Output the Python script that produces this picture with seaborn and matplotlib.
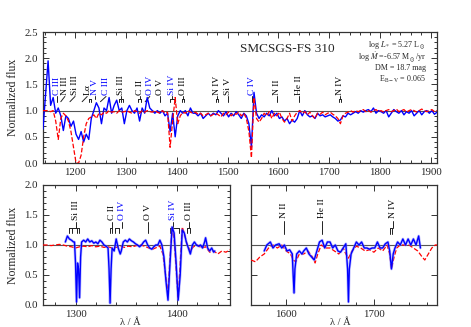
import numpy as np
import matplotlib
matplotlib.use('Agg')
import matplotlib.pyplot as plt
import seaborn as sns
from matplotlib.ticker import MultipleLocator

# ---- top panel: full range, 5 A grid ----
wl_top = np.arange(1137, 1915, 5)
blue_top = [0.65, 1.3, 1.95, 1.1, 1.25, 0.95, 1.05, 0.9, 0.62, 0.9,
            0.85, 0.7, 0.8, 0.55, 0.45, 0.6, 0.4, 0.55, 0.45, 0.85,
            1.0, 1.15, 1.05, 0.75, 1.05, 1.0, 1.25, 0.95, 1.1, 1.2,
            1.0, 1.05, 0.75, 1.0, 1.1, 1.0, 0.95, 1.05, 0.8, 1.05,
            0.95, 1.25, 1.05, 1.0, 0.95, 1.0, 0.95, 1.0, 0.9, 0.95,
            0.6, 0.95, 0.5, 0.9, 1.0, 0.95, 1.0, 0.9, 1.05, 0.95,
            0.95, 0.9, 0.95, 0.85, 0.9, 0.95, 0.9, 0.95, 0.92, 1.0,
            0.95, 0.9, 0.98, 0.88, 0.95, 0.9, 0.98, 0.92, 0.85, 0.95,
            0.9, 0.75, 0.3, 1.35, 0.95, 0.85, 0.92, 0.88, 0.95, 0.9,
            1.0, 0.9, 0.95, 0.85, 0.88, 0.8, 0.85, 0.75, 0.82, 0.78,
            0.85, 1.0, 0.9, 1.0, 0.92, 0.88, 0.9, 0.85, 0.95, 0.9,
            0.92, 0.88, 0.9, 0.92, 0.88, 0.85, 0.8, 0.82, 0.9, 0.88,
            0.95, 0.92, 0.95, 0.98, 0.95, 1.0, 0.97, 1.0, 1.02, 0.98,
            1.05, 0.95, 1.0, 0.98, 0.95, 1.0, 0.88, 0.95, 1.02, 0.98,
            0.95, 1.0, 0.92, 0.98, 0.95, 1.0, 0.9, 0.95, 1.0, 0.92,
            0.98, 1.0, 0.95, 1.0, 0.93, 0.97]
red_top = [1.0, 1.0, 1.0, 0.98, 1.0, 0.8, 0.45, 0.85, 0.95, 0.9,
           0.8, 0.6, 0.3, 0.0, 0.0, 0.15, 0.5, 0.75, 0.85, 0.88,
           0.92, 0.85, 0.95, 0.92, 0.97, 0.95, 1.0, 0.97, 0.98, 0.95,
           1.0, 0.97, 0.98, 1.0, 0.97, 0.95, 1.0, 0.98, 0.95, 1.0,
           0.97, 1.0, 0.98, 0.97, 1.0, 0.97, 0.95, 1.0, 0.95, 0.97,
           0.3, 0.8, 1.25, 0.75, 0.9, 0.97, 0.95, 1.0, 0.97, 0.95,
           0.97, 0.93, 0.95, 0.9, 0.92, 0.95, 0.9, 0.93, 0.95, 0.92,
           0.88, 0.95, 0.92, 0.97, 0.9, 0.95, 0.93, 0.97, 0.9, 0.95,
           0.85, 0.6, 0.1, 1.25, 0.85, 0.78, 0.85, 0.95, 0.9, 0.98,
           0.85, 0.95, 0.9, 0.97, 0.85, 0.78, 0.85, 0.95, 0.8, 0.9,
           0.97, 1.0, 0.95, 0.98, 0.92, 0.97, 0.9, 0.85, 0.95, 0.93,
           0.97, 0.92, 0.95, 0.97, 0.93, 0.9, 0.85, 0.75, 0.9, 0.95,
           0.97, 1.0, 0.97, 1.0, 0.98, 1.0, 1.02, 0.98, 1.0, 0.97,
           1.0, 1.02, 0.98, 1.0, 0.97, 1.0, 1.02, 0.98, 1.0, 1.03,
           0.98, 1.0, 1.02, 0.97, 1.0, 1.02, 1.0, 0.97, 1.0, 1.03,
           1.0, 0.98, 1.0, 1.02, 0.98, 1.0]

# ---- bottom left: Si IV region ----
bl_red_wl = [1268, 1272, 1276, 1280, 1284, 1288, 1292, 1296, 1300, 1304,
             1308, 1312, 1316, 1320, 1324, 1328, 1332, 1336, 1340, 1344,
             1348, 1352, 1356, 1360, 1364, 1368, 1372, 1376, 1380, 1383,
             1386, 1389, 1391, 1393, 1395, 1397, 1399, 1401, 1403, 1405,
             1407, 1410, 1413, 1416, 1420, 1424, 1428, 1432, 1436, 1440,
             1444, 1448, 1452]
bl_red = [1.0, 1.0, 0.99, 1.0, 1.01, 1.0, 0.98, 0.97, 0.95, 0.97,
          0.98, 0.97, 0.99, 0.97, 0.98, 0.96, 0.97, 0.95, 0.96, 0.98,
          0.96, 0.98, 0.97, 0.99, 1.0, 0.98, 0.95, 0.93, 0.96, 0.98,
          0.85, 0.45, 0.2, 0.8, 1.28, 1.1, 0.6, 0.1, 0.7, 1.3,
          1.2, 1.0, 0.9, 0.97, 1.0, 0.95, 0.97, 0.88, 0.9, 0.85,
          0.9, 0.88, 0.92]
bl_blue_wl = [1290, 1292, 1294, 1296, 1298, 1299, 1300, 1301, 1302, 1303,
              1304, 1305, 1306, 1308, 1310, 1312, 1314, 1316, 1318, 1320,
              1322, 1324, 1326, 1328, 1330, 1332, 1333, 1334, 1335, 1336,
              1338, 1340, 1342, 1344, 1345, 1347, 1349, 1351, 1353, 1355,
              1357, 1359, 1361, 1363, 1365, 1367, 1369, 1371, 1373, 1375,
              1377, 1379, 1381, 1383, 1385, 1387, 1389, 1391, 1393, 1395,
              1397, 1399, 1401, 1403, 1405, 1407, 1409, 1411, 1413, 1415,
              1417, 1419, 1421, 1423, 1425, 1427, 1428, 1430, 1432, 1434,
              1436, 1437]
bl_blue = [1.05, 1.15, 1.1, 1.08, 1.05, 1.05, 0.7, 0.05, 0.7, 0.6,
           0.12, 0.8, 1.05, 1.08, 1.05, 1.1, 1.05, 1.07, 1.03, 1.05,
           1.02, 1.08, 1.05, 1.0, 0.98, 0.95, 0.6, 0.03, 0.6, 0.95,
           0.9, 1.1, 0.95, 0.85, 0.9, 1.05, 1.08, 1.05, 1.1, 1.07,
           1.05, 1.02, 1.0, 0.97, 1.0, 1.05, 1.08, 1.0, 0.95, 0.93,
           0.97, 1.0, 1.0, 1.08, 1.0, 0.8, 0.4, 0.08, 0.7, 1.3,
           1.2, 0.7, 0.08, 0.5, 1.25, 1.2, 1.05, 0.95, 0.85, 1.0,
           1.05, 1.0, 0.98, 1.0, 0.95, 1.05, 1.12, 0.95, 0.9, 0.95,
           0.88, 0.9]

# ---- bottom right: N IV region ----
br_red_wl = [1560, 1565, 1570, 1575, 1580, 1585, 1590, 1595, 1600, 1605,
             1608, 1611, 1615, 1620, 1625, 1630, 1633, 1636, 1640, 1645,
             1650, 1655, 1660, 1665, 1668, 1671, 1675, 1680, 1685, 1690,
             1695, 1700, 1705, 1710, 1715, 1718, 1720, 1723, 1726, 1730,
             1735, 1740, 1745, 1750, 1755, 1758, 1762, 1766, 1770, 1772]
br_red = [0.75, 0.72, 0.8, 0.85, 0.95, 1.0, 0.95, 1.0, 0.9, 0.85,
          0.75, 0.72, 0.85, 0.85, 0.9, 0.8, 0.7, 0.85, 1.0, 0.95,
          0.95, 0.9, 0.85, 0.95, 0.85, 0.78, 0.9, 0.98, 0.95, 0.9,
          0.92, 0.88, 0.95, 0.9, 1.0, 0.85, 0.6, 0.8, 0.95, 1.0,
          1.0, 1.0, 0.95, 0.9, 0.8, 0.75, 0.85, 0.95, 1.0, 1.0]
br_blue_wl = [1575, 1578, 1582, 1585, 1588, 1592, 1595, 1598, 1601, 1604,
              1607, 1608, 1609, 1610, 1612, 1615, 1618, 1620, 1623, 1626,
              1629, 1632, 1635, 1638, 1641, 1644, 1647, 1650, 1653, 1656,
              1659, 1662, 1665, 1668, 1670, 1671, 1672, 1674, 1677, 1680,
              1683, 1686, 1689, 1692, 1695, 1698, 1701, 1704, 1707, 1710,
              1713, 1716, 1718, 1720, 1722, 1724, 1727, 1730, 1733, 1736,
              1739, 1742, 1745, 1748, 1751, 1753]
br_blue = [0.9, 1.0, 1.05, 0.95, 1.0, 1.02, 0.95, 1.0, 0.9, 0.92,
           0.85, 0.5, 0.2, 0.6, 0.85, 0.9, 0.85, 0.9, 0.95, 0.85,
           0.8, 0.75, 0.9, 1.05, 1.08, 0.95, 1.05, 1.05, 0.95, 1.0,
           0.9, 0.88, 0.95, 1.02, 0.6, 0.05, 0.6, 0.85, 0.95, 1.05,
           1.0, 1.05, 0.95, 0.95, 0.93, 0.95, 0.95, 1.05, 0.95, 0.95,
           1.02, 1.05, 0.9, 0.6, 0.85, 0.95, 1.05, 1.0, 1.1, 1.0,
           1.1, 1.0, 1.1, 1.0, 1.15, 0.95]

# ---- line identifications ----
top_names = ['C III', 'N III', 'Si III', 'Lα', 'N V', 'C III', 'Si III', 'C II', 'O IV',
             'O V', 'Si IV', 'O III', 'N IV', 'Si V', 'C IV', 'N II', 'He II', 'N IV']
top_pos = [1165, 1180, 1200, 1224, 1239, 1261, 1290, 1327, 1347,
           1367, 1390, 1412, 1480, 1500, 1549, 1598, 1641, 1722]
top_marks = [[1165], [1172], [1190], [1214], [1228, 1232], [1250], [1286, 1290, 1294],
             [1324, 1329], [1338], [1367], [1386, 1396], [1410, 1414], [1478, 1482],
             [1500], [1549], [1598], [1641], [1720, 1724]]
top_blue = ['C III', 'N V', 'O IV', 'Si IV', 'C IV']

bl_names = ['Si III', 'C II', 'O IV', 'O V', 'Si IV', 'O III']
bl_pos = [1300, 1336, 1345.5, 1371, 1396, 1412]
bl_marks = [[1294, 1297, 1301, 1303], [1334, 1336], [1339, 1343], [1371],
            [1393, 1402], [1410, 1413]]
bl_blue_ids = ['O IV', 'Si IV']

br_names = ['N II', 'He II', 'N IV']
br_pos = [1598, 1641, 1722]
br_marks = [[1598], [1641], [1718, 1721]]

sns.set_style('ticks')
plt.rcParams['font.family'] = ['Liberation Serif', 'DejaVu Serif']
plt.rcParams['mathtext.fontset'] = 'stix'

EDGE = '#333333'


def style_axes(ax, xmaj, xmin, ymaj, ymin):
    ax.xaxis.set_major_locator(MultipleLocator(xmaj))
    ax.xaxis.set_minor_locator(MultipleLocator(xmin))
    ax.yaxis.set_major_locator(MultipleLocator(ymaj))
    if ymin:
        ax.yaxis.set_minor_locator(MultipleLocator(ymin))
    ax.tick_params(which='both', direction='in', top=True, right=True,
                   color=EDGE, labelsize=7.8, width=0.7)
    ax.tick_params(which='major', length=4)
    ax.tick_params(which='minor', length=2)
    for sp in ax.spines.values():
        sp.set_color(EDGE)
        sp.set_linewidth(0.9)
    ax.axhline(1.0, color='#555555', lw=0.8, zorder=1)
    ax.set_xlabel('')
    ax.set_ylabel('')


def draw_ids(ax, names, pos, marks, blue_ids, y_lo, y_hi, y_txt):
    for name, xl, mk in zip(names, pos, marks):
        col = 'blue' if name in blue_ids else 'black'
        ax.text(xl, y_txt, name, rotation=90, ha='center', va='bottom',
                fontsize=6.8, color=col)
        if len(mk) == 1:
            ax.plot([mk[0], xl], [y_lo, y_hi], color='#222222', lw=0.7)
        else:
            mid = y_lo + 0.45 * (y_hi - y_lo)
            for m in mk:
                ax.plot([m, m], [y_lo, mid], color='#222222', lw=0.7)
            ax.plot([min(mk), max(mk)], [mid, mid], color='#222222', lw=0.7)
            ax.plot([xl, xl], [mid, y_hi], color='#222222', lw=0.7)


fig = plt.figure(figsize=(4.71, 3.27), dpi=100)
ax_top = fig.add_axes([0.0913, 0.5015, 0.8365, 0.4006])
ax_bl = fig.add_axes([0.0913, 0.0673, 0.397, 0.367])
ax_br = fig.add_axes([0.533, 0.0673, 0.395, 0.367])

# top panel
sns.lineplot(x=wl_top, y=blue_top, ax=ax_top, color='blue', lw=1.0, zorder=3)
sns.lineplot(x=wl_top, y=red_top, ax=ax_top, color='red', lw=0.9,
             linestyle='--', dashes=(3, 1.5), zorder=4)
ax_top.set_xlim(1137, 1912)
ax_top.set_ylim(0, 2.5)
style_axes(ax_top, 100, 20, 0.5, 0.1)
ax_top.set_ylabel('Normalized flux', fontsize=8.5)
draw_ids(ax_top, top_names, top_pos, top_marks, top_blue, 1.17, 1.27, 1.29)
ax_top.text(1618, 2.18, 'SMCSGS-FS 310', fontsize=9.5, ha='center', va='center')
info = ['log $L_*$ = 5.27 L$_\\odot$',
        'log $\\dot{M}$ =-6.57 M$_\\odot$/yr',
        'DM = 18.7 mag',
        'E$_{\\rm B-V}$ = 0.065']
for txt, yy in zip(info, [2.26, 2.03, 1.81, 1.59]):
    ax_top.text(1890, yy, txt, fontsize=5.8, ha='right', va='center')

# bottom left
sns.lineplot(x=bl_red_wl, y=bl_red, ax=ax_bl, color='red', lw=0.9,
             linestyle='--', dashes=(3, 1.5), zorder=3)
sns.lineplot(x=bl_blue_wl, y=bl_blue, ax=ax_bl, color='#8080ff', lw=2.0, alpha=0.5, zorder=4)
sns.lineplot(x=bl_blue_wl, y=bl_blue, ax=ax_bl, color='blue', lw=1.0, zorder=5)
ax_bl.set_xlim(1268, 1452)
ax_bl.set_ylim(0, 2.0)
style_axes(ax_bl, 100, 20, 0.5, 0.1)
ax_bl.set_ylabel('Normalized flux', fontsize=8.5)
draw_ids(ax_bl, bl_names, bl_pos, bl_marks, bl_blue_ids, 1.2, 1.38, 1.42)

# bottom right
sns.lineplot(x=br_red_wl, y=br_red, ax=ax_br, color='red', lw=0.9,
             linestyle='--', dashes=(3, 1.5), zorder=3)
sns.lineplot(x=br_blue_wl, y=br_blue, ax=ax_br, color='#8080ff', lw=2.0, alpha=0.5, zorder=4)
sns.lineplot(x=br_blue_wl, y=br_blue, ax=ax_br, color='blue', lw=1.0, zorder=5)
ax_br.set_xlim(1560, 1772)
ax_br.set_ylim(0, 2.0)
style_axes(ax_br, 100, 20, 0.5, None)
ax_br.tick_params(labelleft=False)
draw_ids(ax_br, br_names, br_pos, br_marks, [], 1.18, 1.4, 1.45)

for ax in (ax_top, ax_bl, ax_br):
    leg = ax.get_legend()
    if leg:
        leg.remove()

fig.text(0.276, 0.0, 'λ / Å', fontsize=7.5, ha='center', va='bottom')
fig.text(0.722, 0.0, 'λ / Å', fontsize=7.5, ha='center', va='bottom')

fig.savefig('out.png', dpi=100)
